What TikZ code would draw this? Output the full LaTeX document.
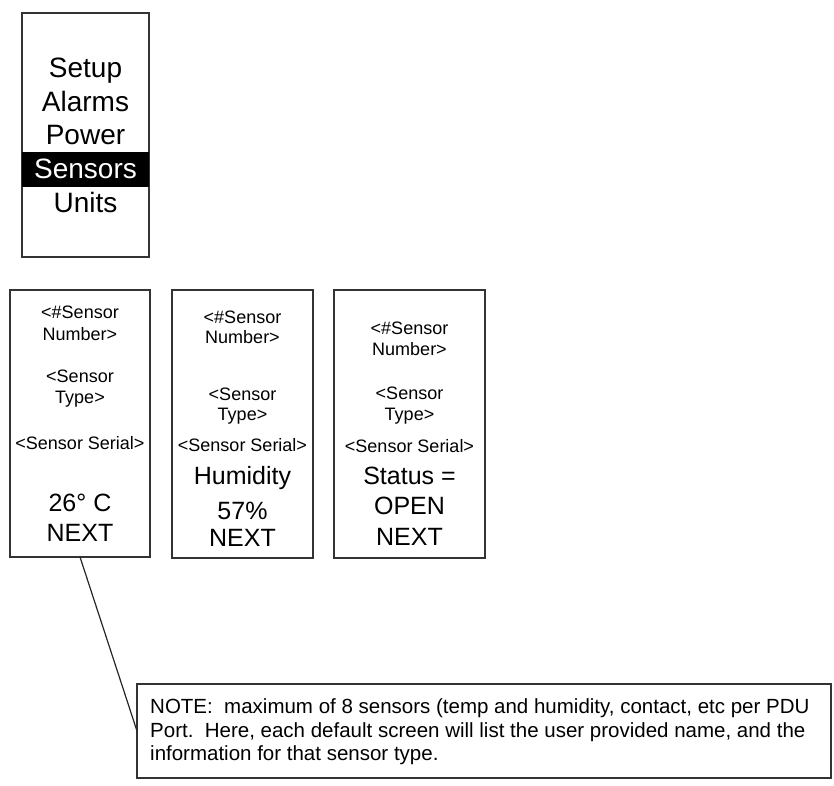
\documentclass[tikz,border=0pt]{standalone}
\usepackage{fontspec}
\setmainfont{Liberation Sans}
\begin{document}
\begin{tikzpicture}[x=1pt,y=-1pt,
  screen/.style={draw=black!80, line width=1.3pt, inner sep=0pt, outer sep=0pt},
  small/.style={anchor=base, inner sep=0pt, font=\fontsize{18}{21}\selectfont},
  big/.style={anchor=base, inner sep=0pt, font=\fontsize{25}{30}\selectfont},
  menu/.style={anchor=base, inner sep=0pt, font=\fontsize{28}{34}\selectfont},
  notetxt/.style={anchor=base west, inner sep=0pt, font=\fontsize{20.5}{24}\selectfont},
  link/.style={draw=black!85, line width=1.2pt}]
\useasboundingbox (0,0) rectangle (834,785);
% top menu screen
\node[screen, minimum width=127pt, minimum height=244pt] (menu) at (85.5,135) {};
\fill[black] (22,152) rectangle (149,187);
\node[menu] (m1) at (85.5,77) {Setup};
\node[menu] (m2) at (85.5,111) {Alarms};
\node[menu] (m3) at (85.5,144.5) {Power};
\node[menu, text=white] (m4) at (85.5,178) {Sensors};
\node[menu] (m5) at (85.5,212) {Units};
% screen 1
\node[screen, minimum width=140pt, minimum height=267pt] (b1) at (80,423.5) {};
\node[small] (b1a) at (80,318) {<\#Sensor};
\node[small] (b1b) at (80,340) {Number>};
\node[small] (b1c) at (80,382) {<Sensor};
\node[small] (b1d) at (80,403) {Type>};
\node[small] (b1e) at (80,449) {<Sensor Serial>};
\node[big] (b1f) at (80,511) {26° C};
\node[big] (b1g) at (80,541) {NEXT};
% screen 2
\node[screen, minimum width=141pt, minimum height=268pt] (b2) at (242.5,424) {};
\node[small] (b2a) at (242.5,323) {<\#Sensor};
\node[small] (b2b) at (242.5,343) {Number>};
\node[small] (b2c) at (242.5,400) {<Sensor};
\node[small] (b2d) at (242.5,420) {Type>};
\node[small] (b2e) at (242.5,451) {<Sensor Serial>};
\node[big] (b2f) at (242.5,484) {Humidity};
\node[big] (b2g) at (242.5,519) {57\%};
\node[big] (b2h) at (242.5,546) {NEXT};
% screen 3
\node[screen, minimum width=151pt, minimum height=268pt] (b3) at (409.5,424) {};
\node[small] (b3a) at (409.5,334) {<\#Sensor};
\node[small] (b3b) at (409.5,355) {Number>};
\node[small] (b3c) at (409.5,399) {<Sensor};
\node[small] (b3d) at (409.5,420) {Type>};
\node[small] (b3e) at (409.5,452) {<Sensor Serial>};
\node[big] (b3f) at (409.5,484) {Status =};
\node[big] (b3g) at (409.5,514) {OPEN};
\node[big] (b3h) at (409.5,545) {NEXT};
% note
\node[screen, minimum width=694pt, minimum height=94pt] (note) at (484,731) {};
\node[notetxt] (n1) at (150,713) {NOTE:\ \ maximum of 8 sensors (temp and humidity, contact, etc per PDU};
\node[notetxt] (n2) at (150,737) {Port.\ \ Here, each default screen will list the user provided name, and the};
\node[notetxt] (n3) at (150,760) {information for that sensor type.};
\draw[link] (b1.south) -- (note.west);
\end{tikzpicture}
\end{document}
